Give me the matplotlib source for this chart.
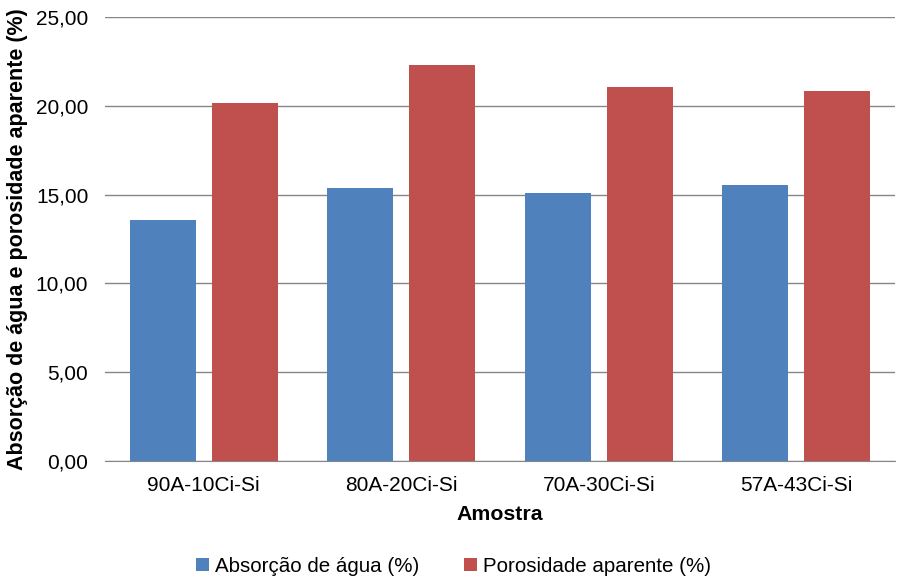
import numpy as np
import matplotlib.pyplot as plt
from matplotlib.ticker import FuncFormatter

# dados
amostras = ["90A-10Ci-Si", "80A-20Ci-Si", "70A-30Ci-Si", "57A-43Ci-Si"]
absorcao = [13.54, 15.39, 15.06, 15.51]
porosidade = [20.15, 22.30, 21.07, 20.84]

plt.rcParams['font.family'] = ['Liberation Sans', 'DejaVu Sans']

fig = plt.figure(figsize=(9.07, 5.82), dpi=100)
ax = fig.add_axes([0.1158, 0.208, 0.871, 0.763])

x = np.arange(len(amostras))
w = 0.334
d = 0.2075
ax.bar(x - d, absorcao, w, color="#4F81BD", label="Absorção de água (%)", zorder=3)
ax.bar(x + d, porosidade, w, color="#C0504D", label="Porosidade aparente (%)", zorder=3)

ax.set_xlim(-0.5, len(amostras) - 0.5)
ax.set_ylim(0, 25)
ax.set_yticks(np.arange(0, 25.1, 5))
ax.yaxis.set_major_formatter(FuncFormatter(lambda v, p: f"{v:.2f}".replace(".", ",")))
ax.grid(axis="y", color="#868686", linewidth=1, zorder=0)
ax.set_xticks(x)
ax.set_xticklabels(amostras)
ax.tick_params(length=0, labelsize=15, colors="black", pad=11)
ax.tick_params(axis="y", pad=12)

for s in ["top", "right", "left"]:
    ax.spines[s].set_visible(False)
ax.spines["bottom"].set_color("#868686")

ax.set_xlabel("Amostra", fontsize=15.3, fontweight="bold", labelpad=7)
ax.set_ylabel("Absorção de água e porosidade aparente (%)", fontsize=15.5, fontweight="bold", labelpad=6)

fig.legend(loc="center", bbox_to_anchor=(0.5, 0.027), ncol=2, frameon=False,
           fontsize=14.8, handlelength=0.6, handleheight=0.6, handletextpad=0.3,
           columnspacing=2.2)

fig.savefig("out.png", dpi=100)
